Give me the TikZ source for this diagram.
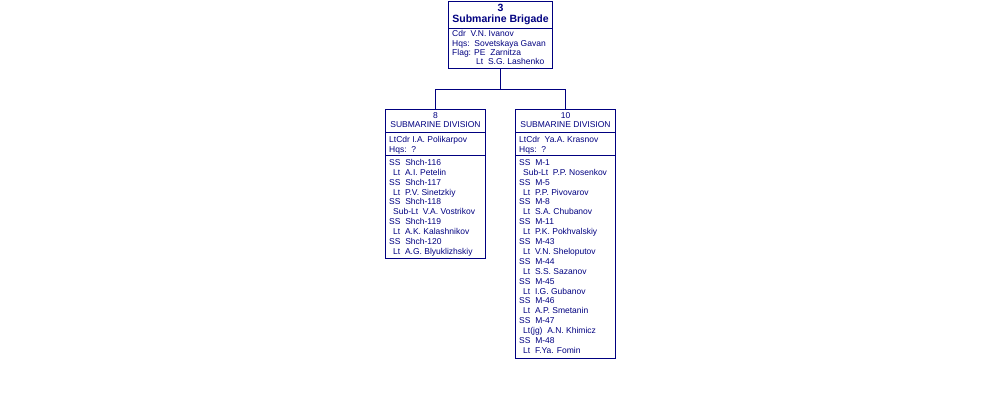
\documentclass[tikz,border=0pt]{standalone}
\usepackage{fontspec}
\setmainfont{Liberation Sans}
\definecolor{navy}{RGB}{0,0,128}
\tikzset{
  box/.style={draw=navy, line width=1pt, inner sep=0pt, rectangle},
  rulestyle/.style={draw=navy, line width=1pt},
  conn/.style={draw=navy, line width=1pt},
  txt/.style={anchor=base west, inner sep=0pt, text=navy, font=\fontsize{8.5}{9.9}\selectfont},
  ctr/.style={anchor=base, inner sep=0pt, text=navy, font=\fontsize{8.5}{9.9}\selectfont},
  ttl/.style={anchor=base, inner sep=0pt, text=navy, font=\fontsize{10.5}{12}\selectfont\bfseries}
}
\begin{document}
\begin{tikzpicture}[x=1pt,y=-1pt]
\useasboundingbox (0,0) rectangle (1000,400);
% Brigade box
\node[box, minimum width=104pt, minimum height=67pt] (brig) at (500.5,34.5) {};
\draw[rulestyle] (448.5,28.5) -- (552.5,28.5);
\node[ttl] (b3) at (500.5,11.7) {3};
\node[ttl] (bname) at (500.5,22) {Submarine Brigade};
\node[txt] (bcdr) at (452,36.7) {Cdr~~V.N. Ivanov};
\node[txt] (bhqs) at (452,46) {Hqs:~~Sovetskaya Gavan};
\node[txt] (bflag) at (452,55.3) {Flag: PE~~Zarnitza};
\node[txt] (blt) at (476,64.7) {Lt~~S.G. Lashenko};
% Division boxes
\node[box, minimum width=100pt, minimum height=149pt] (div8) at (435.5,184) {};
\node[box, minimum width=100pt, minimum height=249pt] (div10) at (565.5,234) {};
\draw[rulestyle] (385.5,132.5) -- (485.5,132.5);
\draw[rulestyle] (385.5,155.5) -- (485.5,155.5);
\draw[rulestyle] (515.5,132.5) -- (615.5,132.5);
\draw[rulestyle] (515.5,155.5) -- (615.5,155.5);
% Connectors
\coordinate (j) at (500.5,89.5);
\draw[conn] (brig.south) -- (j);
\draw[conn] (j) -| (div8.north);
\draw[conn] (j) -| (div10.north);
% Div 8 text
\node[ctr] (d8n) at (435.5,118.3) {8};
\node[ctr] (d8t) at (435.5,127.3) {SUBMARINE DIVISION};
\node[txt] (d8c) at (389,142.7) {LtCdr I.A. Polikarpov};
\node[txt] (d8h) at (389,152.4) {Hqs:~~?};
\foreach \a/\b [count=\i from 0] in {Shch-116/{Lt~~A.I. Petelin},Shch-117/{Lt~~P.V. Sinetzkiy},Shch-118/{Sub-Lt~~V.A. Vostrikov},Shch-119/{Lt~~A.K. Kalashnikov},Shch-120/{Lt~~A.G. Blyuklizhskiy}}{
  \node[txt] (d8s\i) at (389,{165.3+19.8*\i}) {SS~~\a};
  \node[txt] (d8k\i) at (393,{175.2+19.8*\i}) {\b};
}
% Div 10 text
\node[ctr] (d10n) at (565.5,118.3) {10};
\node[ctr] (d10t) at (565.5,127.3) {SUBMARINE DIVISION};
\node[txt] (d10c) at (519,142.7) {LtCdr~~Ya.A. Krasnov};
\node[txt] (d10h) at (519,152.4) {Hqs:~~?};
\foreach \a/\b [count=\i from 0] in {M-1/{Sub-Lt~~P.P. Nosenkov},M-5/{Lt~~P.P. Pivovarov},M-8/{Lt~~S.A. Chubanov},M-11/{Lt~~P.K. Pokhvalskiy},M-43/{Lt~~V.N. Sheloputov},M-44/{Lt~~S.S. Sazanov},M-45/{Lt~~I.G. Gubanov},M-46/{Lt~~A.P. Smetanin},M-47/{Lt(jg)~~A.N. Khimicz},M-48/{Lt~~F.Ya. Fomin}}{
  \node[txt] (d10s\i) at (519,{165.3+19.8*\i}) {SS~~\a};
  \node[txt] (d10k\i) at (523,{175.2+19.8*\i}) {\b};
}
\end{tikzpicture}
\end{document}
